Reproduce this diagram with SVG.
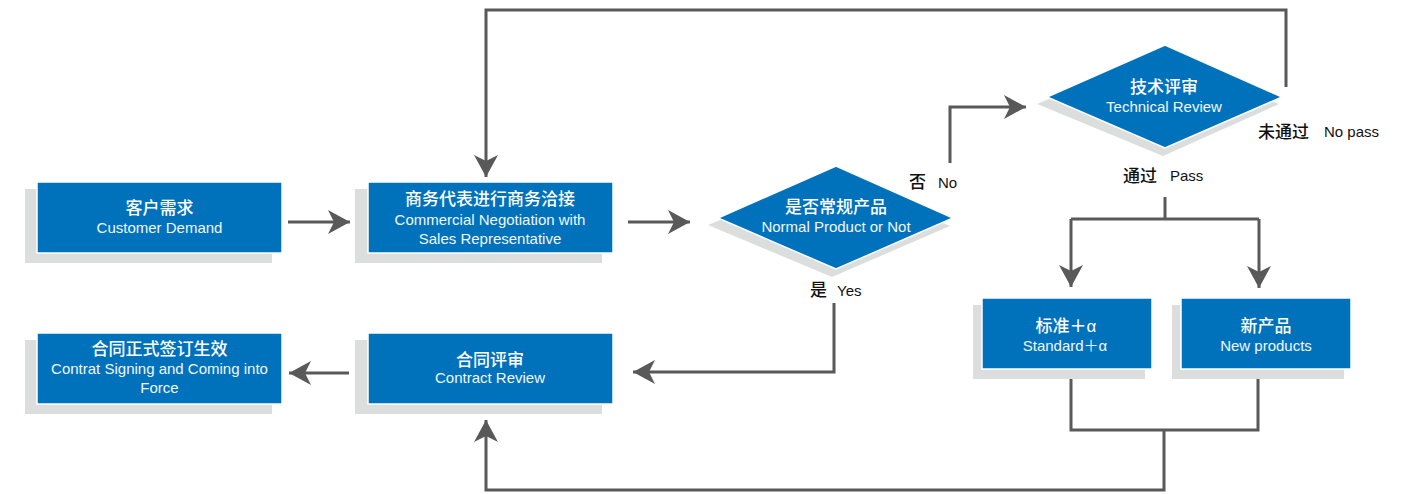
<svg xmlns="http://www.w3.org/2000/svg" width="1410" height="494" viewBox="0 0 1410 494">
<style>
.sh{fill:#dcdddd}
.bx{fill:#0072bc;stroke:#ffffff;stroke-width:1.5}
.cn{font-family:"Liberation Sans","Noto Sans CJK SC",sans-serif;font-size:17px;fill:#ffffff;text-anchor:middle;font-weight:500}
.en{font-family:"Liberation Sans","Noto Sans CJK SC",sans-serif;font-size:15px;fill:#f2f6fa;text-anchor:middle}
.lc{font-family:"Liberation Sans","Noto Sans CJK SC",sans-serif;font-size:17px;fill:#111111;font-weight:500}
.le{font-family:"Liberation Sans","Noto Sans CJK SC",sans-serif;font-size:15px;fill:#111111}
.ln{fill:none;stroke:#595959;stroke-width:3}
</style>
<defs>
<marker id="ah" markerUnits="userSpaceOnUse" markerWidth="24" markerHeight="26" refX="22" refY="12" orient="auto">
<path d="M0,0 L22,12 L0,24 L6,12 Z" fill="#595959"/>
</marker>
</defs>
<rect width="1410" height="494" fill="#ffffff"/>

<g id="connectors">
<path class="ln" d="M288,222 H350" marker-end="url(#ah)"/>
<path class="ln" d="M628,222 H690" marker-end="url(#ah)"/>
<path class="ln" d="M950,163 V107 H1026" marker-end="url(#ah)"/>
<path class="ln" d="M1286,87 V10 H486 V177" marker-end="url(#ah)"/>
<path class="ln" d="M834,303 V372 H633" marker-end="url(#ah)"/>
<path class="ln" d="M349,373 H289" marker-end="url(#ah)"/>
<path class="ln" d="M1165,197 V219"/>
<path class="ln" d="M1071,219 H1259"/>
<path class="ln" d="M1071,219 V287" marker-end="url(#ah)"/>
<path class="ln" d="M1259,219 V288" marker-end="url(#ah)"/>
<path class="ln" d="M1071,378 V430 H1258 V378"/>
<path class="ln" d="M1164,430 V490 H486 V420" marker-end="url(#ah)"/>
</g>

<g id="n1">
<rect class="sh" x="25" y="189" width="247" height="74"/>
<rect class="bx" x="37" y="182" width="245" height="71"/>
<text class="cn" x="159.5" y="214">客户需求</text>
<text class="en" x="159.5" y="233">Customer Demand</text>
</g>

<g id="n2">
<rect class="sh" x="355" y="189" width="247" height="74"/>
<rect class="bx" x="368" y="182" width="245" height="71"/>
<text class="cn" x="490" y="205">商务代表进行商务洽接</text>
<text class="en" x="490" y="225">Commercial Negotiation with</text>
<text class="en" x="490" y="244">Sales Representative</text>
</g>

<g id="d1">
<polygon class="sh" points="832,174 950,226 832,277 708,225"/>
<polygon class="bx" points="836,166 953,218 836,269 718,218"/>
<text class="cn" x="836" y="213">是否常规产品</text>
<text class="en" x="836" y="232">Normal Product or Not</text>
</g>

<g id="d2">
<polygon class="sh" points="1160,53 1279,104 1163,156 1037,104"/>
<polygon class="bx" points="1165,45 1282,97 1165,148 1047,97"/>
<text class="cn" x="1164" y="93">技术评审</text>
<text class="en" x="1164" y="112">Technical Review</text>
</g>

<g id="n3">
<rect class="sh" x="973" y="305" width="172" height="74"/>
<rect class="bx" x="982" y="298" width="170" height="71"/>
<text class="cn" x="1066" y="332">标准＋α</text>
<text class="en" x="1065" y="351">Standard＋α</text>
</g>

<g id="n4">
<rect class="sh" x="1172" y="305" width="172" height="74"/>
<rect class="bx" x="1181" y="298" width="170" height="71"/>
<text class="cn" x="1266" y="332">新产品</text>
<text class="en" x="1266" y="351">New products</text>
</g>

<g id="n5">
<rect class="sh" x="355" y="340" width="247" height="74"/>
<rect class="bx" x="368" y="333" width="245" height="71"/>
<text class="cn" x="490" y="366">合同评审</text>
<text class="en" x="490" y="383">Contract Review</text>
</g>

<g id="n6">
<rect class="sh" x="25" y="340" width="247" height="74"/>
<rect class="bx" x="37" y="333" width="245" height="71"/>
<text class="cn" x="159.5" y="355">合同正式签订生效</text>
<text class="en" x="159.5" y="374">Contrat Signing and Coming into</text>
<text class="en" x="159.5" y="393">Force</text>
</g>

<g id="labels">
<text class="lc" x="909" y="188">否</text>
<text class="le" x="938" y="188">No</text>
<text class="lc" x="810" y="296">是</text>
<text class="le" x="837" y="296">Yes</text>
<text class="lc" x="1258" y="138">未通过</text>
<text class="le" x="1324" y="137">No pass</text>
<text class="lc" x="1123" y="182">通过</text>
<text class="le" x="1170" y="181">Pass</text>
</g>
</svg>
